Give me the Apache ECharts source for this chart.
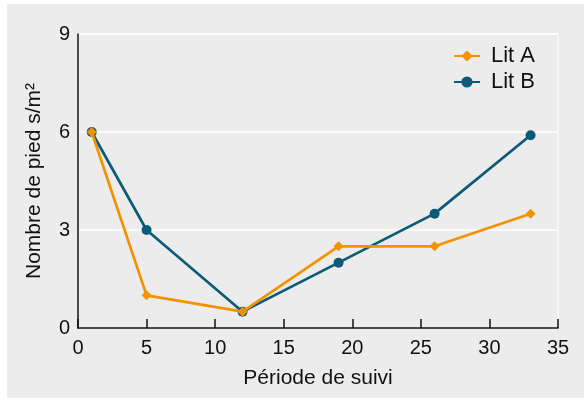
<!DOCTYPE html>
<html><head><meta charset="utf-8">
<script src="https://cdn.jsdelivr.net/npm/echarts@6/dist/echarts.min.js"></script>
<style>html,body{margin:0;padding:0;background:#fff}#c{width:584px;height:401px}</style>
</head><body><div id="c"></div>
<script>
const xValues = [1, 5, 12, 19, 26, 33];
const litA = [6, 1, 0.5, 2.5, 2.5, 3.5];
const litB = [6, 3, 0.5, 2, 3.5, 5.9];
const seriesNames = ['Lit A', 'Lit B'];
const xTitle = 'Période de suivi';
const yTitle = 'Nombre de pied s/m²';

const pairs = (xs, ys) => xs.map((x, i) => [x, ys[i]]);
const FONT = '"Liberation Sans", Arial, sans-serif';
const chart = echarts.init(document.getElementById('c'), null, {renderer: 'canvas'});
chart.setOption({
  backgroundColor: '#ffffff',
  animation: false,
  textStyle: {fontFamily: FONT},
  graphic: [{type: 'rect', z: -10, shape: {x: 7, y: 4, width: 577, height: 394}, style: {fill: '#ececec'}}],
  grid: {left: 78, right: 26, top: 34, bottom: 73, show: true, borderColor: '#ffffff', borderWidth: 1, backgroundColor: 'transparent'},
  legend: {
    data: seriesNames, right: 44, top: 40, orient: 'vertical', itemGap: 4,
    itemWidth: 26, itemHeight: 14,
    textStyle: {fontSize: 22, color: '#111', fontFamily: FONT, padding: [0, 0, 0, 6]}
  },
  xAxis: {
    type: 'value', min: 0, max: 35, interval: 5,
    name: xTitle, nameLocation: 'middle', nameGap: 40,
    nameTextStyle: {fontSize: 21, color: '#111', fontFamily: FONT},
    axisLine: {show: true, lineStyle: {color: '#111', width: 1.5}},
    axisTick: {show: true, inside: true, length: 9, lineStyle: {color: '#111', width: 1.5}},
    axisLabel: {fontSize: 20, color: '#111', margin: 10, fontFamily: FONT},
    splitLine: {show: false}
  },
  yAxis: {
    type: 'value', min: 0, max: 9, interval: 3,
    name: yTitle, nameLocation: 'middle', nameGap: 33,
    nameTextStyle: {fontSize: 21, color: '#111', fontFamily: FONT},
    axisLine: {show: true, lineStyle: {color: '#111', width: 1.5}},
    axisTick: {show: false},
    axisLabel: {fontSize: 20, color: '#111', margin: 8, fontFamily: FONT},
    splitLine: {show: true, lineStyle: {color: '#ffffff', width: 1.5}}
  },
  series: [
    {name: seriesNames[1], type: 'line', data: pairs(xValues, litB), symbol: 'circle', symbolSize: 10,
     color: '#0c5a78', lineStyle: {width: 2.7}, z: 2},
    {name: seriesNames[0], type: 'line', data: pairs(xValues, litA), symbol: 'diamond', symbolSize: 10,
     color: '#f39200', lineStyle: {width: 2.7}, z: 3}
  ]
});
</script></body></html>
